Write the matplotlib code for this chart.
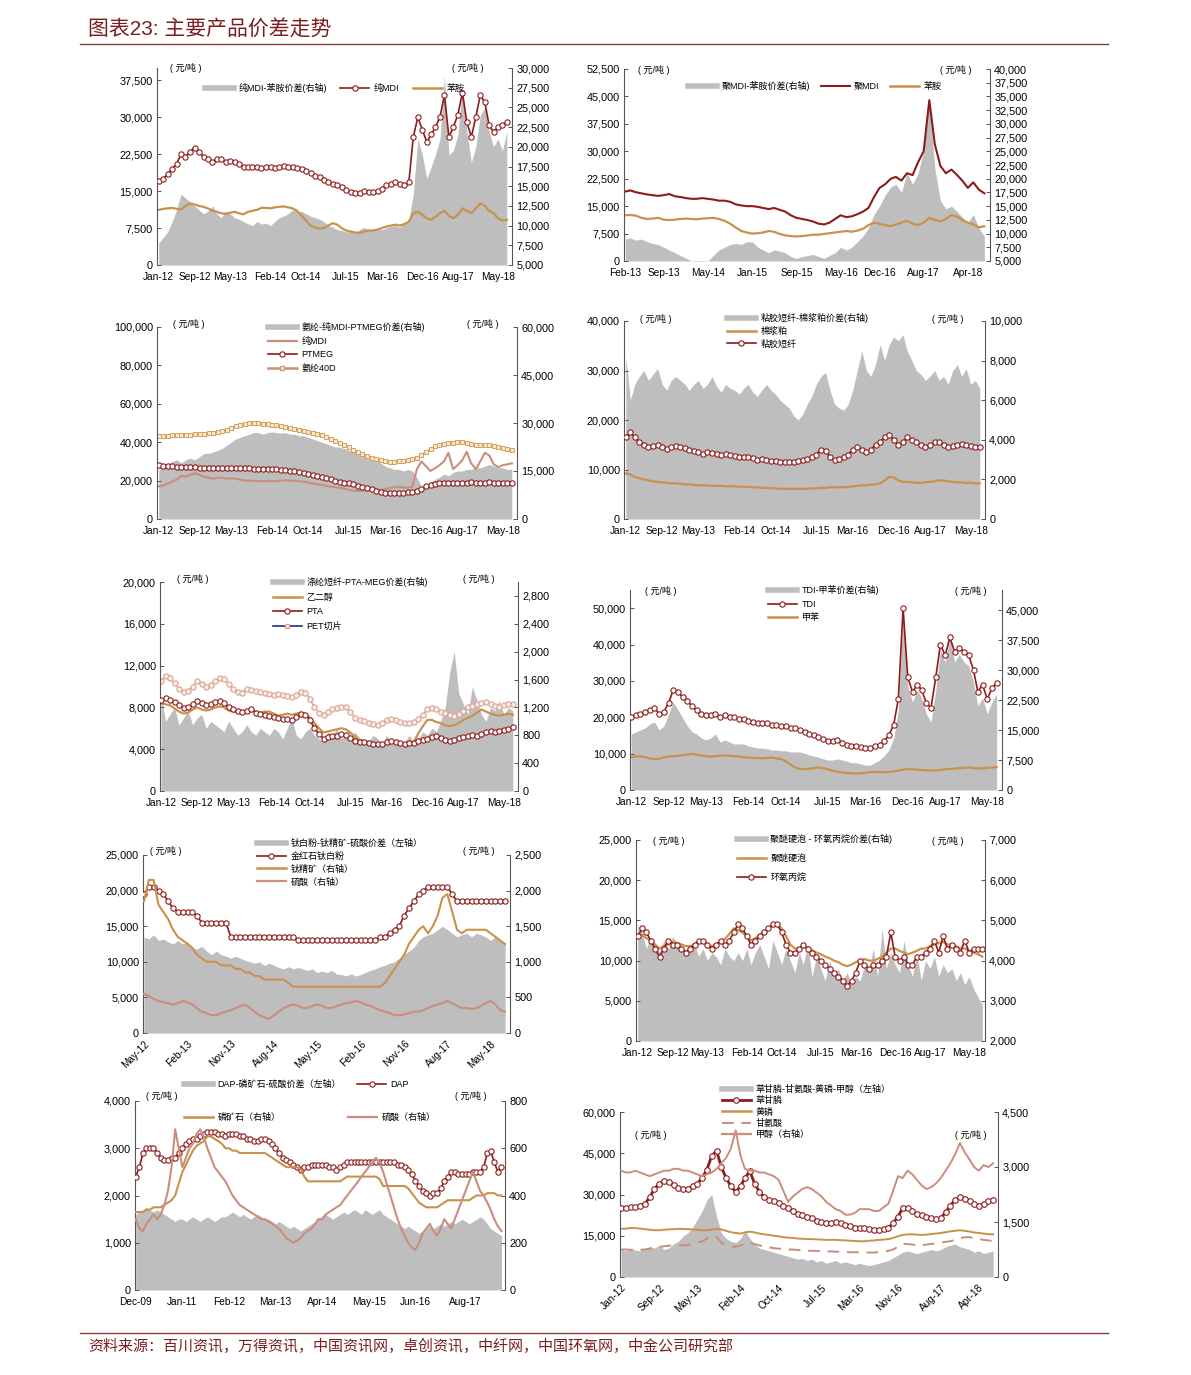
import numpy as np
import pandas as pd
import matplotlib
matplotlib.use('Agg')
import matplotlib.pyplot as plt
from matplotlib.lines import Line2D
from matplotlib.ticker import FuncFormatter

plt.rcParams['font.family'] = ['Liberation Sans', 'Noto Sans CJK SC']
plt.rcParams['axes.unicode_minus'] = False

W, H = 1191, 1375
GRAY = '#BEBEBE'
RED = '#8E1B1B'
TAN = '#C8924A'
PINK = '#C98E7C'
DARK = '#7A1E1E'

# ---------------- data (monthly) ----------------
# panel 1: 纯MDI / 苯胺, Jan-12 ..
p1_x = ['Jan-12', 'Sep-12', 'May-13', 'Feb-14', 'Oct-14', 'Jul-15', 'Mar-16', 'Dec-16', 'Aug-17', 'May-18']
mdi = [17000, 17500, 18500, 19500, 20500, 22500, 22000, 23000, 23800, 23000, 22000, 21500,
       21000, 21500, 21500, 21000, 21200, 21000, 20500, 20000, 20000, 19800, 19800, 19700,
       19800, 19800, 19700, 20000, 20200, 20000, 19900, 19600, 19500, 19000, 18600, 18000,
       17800, 17200, 16800, 16500, 16200, 15800, 15200, 14800, 14600, 14700, 15000, 14900,
       14800, 15000, 15500, 16200, 16500, 16800, 16400, 16300, 16800, 26000, 30000, 27500,
       25000, 26500, 28000, 30000, 34500, 26000, 28000, 30500, 35000, 29000, 26000, 30000,
       34500, 33000, 28500, 27000, 28000, 28500, 29000]
aniline1 = [11200, 11400, 11500, 11600, 11400, 11300, 12000, 12500, 12300, 12000, 11800, 11500,
            11000, 10800, 10500, 10400, 10600, 10800, 10500, 10300, 10800, 11000, 11200, 11600,
            11600, 11500, 11700, 11800, 11900, 11700, 11500, 11000, 10000, 9000, 8000, 7600,
            7400, 7500, 8000, 8500, 8200, 7500, 7000, 6800, 6600, 6500, 6800, 7000,
            7000, 7200, 7500, 7800, 8000, 8200, 8000, 8300, 8800, 10500, 10800, 10200,
            9500, 9200, 9800, 10500, 11000, 10000, 9500, 10200, 11500, 11000, 10500, 11500,
            12500, 12000, 11000, 10500, 9500, 9000, 9200]
spread1 = [7800, 8500, 9200, 10500, 12000, 14000, 13500, 13000, 12500, 12000, 11500, 11800,
           12500, 11500, 11000, 11800, 11500, 11000, 10800, 10500, 10200, 10000, 10500, 10200,
           10300, 10000, 10500, 11000, 11200, 11500, 12000, 11800, 11800, 11500, 11200, 11000,
           10800, 10500, 10000, 9800, 9500, 9400, 9200, 9300, 9000, 9500, 9800, 9400,
           9400, 9600, 9500, 9700, 9900, 10000, 9800, 10300, 10800, 14000, 21000, 19000,
           16000, 17500, 19000, 21000, 29000, 19000, 19500, 21500, 27500, 22000, 18000, 20000,
           24000, 25000, 22000, 20000, 21000, 19500, 22000]

# panel 2: 聚MDI / 苯胺, Feb-13 ..
p2_x = ['Feb-13', 'Sep-13', 'May-14', 'Jan-15', 'Sep-15', 'May-16', 'Dec-16', 'Aug-17', 'Apr-18']
pmdi = [19000, 19300, 18800, 18500, 18200, 18000, 17800, 18000, 18300, 17700, 17500,
        17200, 17000, 17000, 17200, 17000, 16800, 16500, 16500, 16200, 15500, 15200, 15000,
        15000, 14800, 14500, 14200, 14500, 14000, 13500, 12500, 11800, 11500, 11200, 10800,
        10200, 10000, 10500, 11500, 12500, 12000, 12200, 12800, 13500, 14500, 17500, 20000,
        21000, 22500, 23000, 22000, 24000, 23500, 27000, 30000, 44000, 32000, 26000, 24000,
        25000, 23500, 22000, 20000, 21500, 19500, 18500]
aniline2 = [12500, 12600, 12400, 11800, 11500, 11600, 11800, 11300, 11200, 11300, 11500,
            11600, 11500, 11400, 11600, 11700, 11800, 11500, 11000, 10200, 9200, 8200, 7800,
            7500, 7600, 7800, 8200, 8000, 7400, 7000, 6800, 6700, 6800, 7000, 7200,
            7200, 7400, 7600, 7800, 8000, 8200, 8000, 8300, 8800, 9800, 10500, 10200,
            9800, 9500, 10000, 10500, 11000, 10200, 9800, 10500, 11800, 11200, 10800, 11500,
            12500, 12200, 11200, 10500, 10000, 9200, 9500]
spread2 = [9000, 9200, 8800, 9000, 8500, 8200, 8000, 7500, 7000, 6500, 6000,
           5500, 5000, 4500, 4500, 5000, 6000, 7000, 7500, 8000, 8200, 8000, 8500,
           8500, 7500, 7000, 6500, 7000, 6800, 6500, 5800, 5500, 5800, 6000, 6200,
           5800, 5500, 6000, 6500, 7500, 7000, 7500, 8500, 9500, 11000, 13500, 15000,
           17000, 18500, 19000, 17500, 21000, 19000, 21000, 25000, 34000, 22000, 16000, 14500,
           15000, 14000, 13000, 12000, 13500, 11000, 9500]

# panel 3: 氨纶 / 纯MDI / PTMEG, Jan-12 ..
spandex = [43000, 43000, 43200, 43500, 43500, 43800, 44000, 44000, 44200, 44500, 44500, 44800,
           45000, 45500, 46000, 46500, 47500, 48500, 49000, 49500, 50000, 50000, 49800, 49500,
           49500, 49200, 49000, 48500, 48000, 47500, 47000, 46500, 46000, 45500, 45000, 44500,
           43500, 42500, 41500, 40500, 39500, 38500, 37500, 36000, 35000, 34000, 33000, 32000,
           31000, 30500, 30000, 29800, 29800, 30000, 30200, 30500, 31000, 32000, 33500, 35000,
           36500, 38000, 38500, 39000, 39500, 39500, 40000, 40000, 39500, 39000, 38500, 38500,
           38500, 38500, 38000, 37500, 37000, 36500, 36000]
ptmeg = [28000, 27800, 27600, 27500, 27300, 27200, 27000, 27000, 27000, 26800, 26800, 26800,
         26800, 26700, 26600, 26500, 26500, 26500, 26500, 26400, 26400, 26300, 26200, 26100,
         26000, 26000, 25800, 25500, 25300, 25000, 24800, 24500, 24000, 23500, 23000, 22500,
         22000, 21500, 21000, 20000, 19500, 19000, 18500, 18000, 17000, 16500, 16000, 15500,
         14500, 14000, 13800, 13500, 13500, 13500, 13800, 14000, 14200, 14500, 15500, 17000,
         17500, 18000, 18500, 18500, 18500, 18500, 18800, 19000, 19000, 19200, 19000, 19000,
         19000, 19200, 19000, 19000, 18800, 18800, 18500]
spread3 = [15500, 16000, 17000, 18000, 18500, 17500, 18500, 19000, 18500, 19500, 20500, 20500,
           21000, 21500, 22000, 23000, 24000, 25000, 25500, 26000, 26500, 27000, 27000, 26500,
           27000, 27200, 27000, 26800, 27000, 26500, 26500, 26000, 26000, 25500, 25000, 24500,
           24000, 23500, 23000, 22500, 22500, 22000, 21500, 21000, 20500, 20000, 19500, 19000,
           18500, 17500, 16500, 16000, 15500, 15500, 15000, 15500, 15000, 13000, 10000, 10500,
           11500, 12500, 13000, 14000, 13500, 14500, 15000, 15000, 15500, 15500, 16000, 16000,
           16500, 17000, 16500, 16000, 16000, 15500, 15500]

# panel 4: 粘胶短纤 / 棉浆粕
viscose = [16500, 17500, 16500, 15500, 15000, 14500, 14800, 15000, 14500, 14200, 14500, 14800,
           14500, 14300, 14000, 13800, 13500, 13200, 13500, 13300, 13200, 13000, 13200, 13000,
           12800, 12600, 12500, 12500, 12300, 12000, 12200, 12000, 11800, 11800, 11600, 11500,
           11500, 11600, 11800, 12000, 12200, 12500, 13000, 14000, 13800, 12500, 12000, 12200,
           12500, 13000, 14000, 14500, 14000, 13500, 14000, 15000, 15500, 16500, 17000, 16000,
           15000, 15500, 16500, 16000, 15500, 15000, 14500, 15000, 15500, 15500, 15000, 14500,
           14800, 15000, 15200, 15000, 14800, 14500, 14500]
pulp = [9200, 9000, 8500, 8200, 8000, 7800, 7600, 7500, 7400, 7300, 7200, 7200,
        7100, 7000, 7000, 6900, 6800, 6800, 6800, 6700, 6700, 6700, 6600, 6600,
        6600, 6500, 6500, 6500, 6400, 6400, 6300, 6300, 6200, 6200, 6100, 6100,
        6100, 6100, 6100, 6100, 6100, 6200, 6200, 6300, 6300, 6400, 6400, 6400,
        6400, 6500, 6600, 6700, 6800, 6800, 6900, 7000, 7200, 7800, 8500, 8400,
        7800, 7500, 7500, 7400, 7300, 7300, 7400, 7500, 7600, 7800, 7800, 7600,
        7500, 7400, 7400, 7300, 7300, 7200, 7200]
spread4 = [8200, 6000, 6800, 7200, 7500, 7000, 7300, 7600, 6800, 6500, 7000, 7200,
           7000, 6800, 6500, 6800, 7000, 6600, 6800, 7200, 6700, 6400, 6800, 6600,
           6500, 6300, 6600, 6800, 6400, 6200, 6500, 6800, 6500, 6300, 6000, 5800,
           5600, 5200, 5000, 5300, 5800, 6200, 6800, 7200, 7400, 6500, 5800, 5600,
           5500, 5800, 6500, 7500, 8500, 7500, 7200, 7800, 8800, 8000, 8800, 9200,
           9000, 9300, 8500, 8000, 7500, 7300, 7000, 7200, 7500, 7000, 7200, 6800,
           7500, 7800, 7200, 7600, 6800, 7000, 6600]

# panel 5: PET切片 / PTA / 乙二醇
pet = [10500, 11000, 10800, 10300, 9800, 9500, 9600, 10000, 10500, 10200, 10000, 10100,
       10500, 10800, 10700, 10200, 9800, 9500, 9400, 9800, 9700, 9600, 9500, 9400,
       9300, 9200, 9300, 9200, 9100, 9000, 9200, 9500, 9400, 8800, 8000, 7500,
       7300, 7600, 7800, 7900, 8000, 8000, 7600, 7000, 6800, 6700, 6500, 6400,
       6300, 6500, 6800, 6900, 6800, 6600, 6500, 6500, 6600, 6900, 7300, 7800,
       7900, 7800, 7600, 7500, 7300, 7200, 7400, 7700, 8000, 8100, 8300, 8400,
       8500, 8300, 8100, 8000, 8200, 8300, 8300]
pta = [8700, 8900, 8700, 8500, 8200, 7900, 8000, 8300, 8600, 8400, 8200, 8300,
       8500, 8600, 8400, 8000, 7800, 7700, 7600, 7700, 7800, 7500, 7400, 7300,
       7200, 7100, 7000, 6900, 6900, 6800, 7100, 7400, 7300, 6800, 6000, 5500,
       5000, 5200, 5300, 5300, 5500, 5400, 5100, 4800, 4700, 4700, 4600, 4500,
       4500, 4500, 4700, 4800, 4700, 4600, 4500, 4600, 4600, 4800, 4900, 5000,
       5200, 5300, 5100, 4900, 4800, 4900, 5100, 5200, 5300, 5400, 5300, 5500,
       5600, 5700, 5600, 5700, 5800, 5900, 6100]
meg = [8400, 8300, 8200, 7900, 7600, 7400, 7500, 7800, 8000, 7800, 7700, 7800,
       8000, 8100, 8000, 7700, 7600, 7500, 7500, 7700, 7700, 7600, 7500, 7600,
       7600, 7400, 7200, 7300, 7400, 7300, 7400, 7500, 7400, 7000, 6500, 6000,
       5600, 5700, 5800, 5900, 6000, 5900, 5600, 5200, 4900, 4800, 4700, 4600,
       4500, 4400, 4500, 4600, 4600, 4500, 4500, 4600, 4700, 5500, 6200, 6800,
       6800, 6600, 6500, 6300, 6200, 6300, 6500, 6800, 7000, 7200, 7500, 7800,
       7600, 7400, 7300, 7200, 7300, 7400, 7300]
spread5 = [1350, 1000, 1100, 1200, 950, 1050, 1150, 950, 1050, 1100, 900, 1000,
           950, 900, 850, 1000, 900, 800, 850, 950, 850, 800, 900, 850,
           800, 900, 850, 750, 900, 1050, 800, 750, 850, 900, 800, 750,
           700, 850, 800, 900, 750, 800, 700, 850, 750, 650, 700, 800,
           750, 650, 800, 700, 750, 650, 700, 800, 700, 750, 850, 800,
           900, 850, 1000, 1200, 1700, 2000, 1400, 1250, 1100, 1500, 1300, 1100,
           1000, 1200, 1150, 1300, 1100, 1200, 1150]

# panel 6: TDI / 甲苯
tdi = [20000, 20500, 21000, 21500, 22000, 22500, 21000, 21500, 24000, 27500, 27000, 25500,
       24500, 23000, 22000, 21000, 20500, 20500, 21000, 20000, 20500, 20000, 20000, 19500,
       19500, 19000, 18800, 18500, 18500, 18300, 18000, 17800, 17500, 17500, 17000, 17000,
       16500, 16000, 15500, 15000, 14500, 14000, 13500, 13500, 13800, 13000, 12500, 12000,
       12000, 11800, 11500, 11500, 12000, 12500, 13500, 15000, 18000, 25000, 50000, 31000,
       27000, 29000, 27500, 24000, 22500, 31000, 40000, 37000, 42000, 38000, 39000, 38000,
       37000, 33000, 27000, 29000, 25000, 28000, 29500]
toluene = [9000, 9200, 9300, 9000, 8700, 8500, 8600, 9000, 9200, 9300, 9400, 9600,
           9800, 9900, 9700, 9500, 9300, 9200, 9300, 9400, 9500, 9400, 9300, 9200,
           9000, 8900, 8800, 8800, 8700, 8800, 8900, 8700, 8500, 7900, 7000, 6200,
           5800, 5700, 5900, 6000, 6200, 6000, 5700, 5300, 5000, 4800, 4700, 4600,
           4500, 4600, 4700, 4900, 5000, 4900, 4900, 5000, 5100, 5300, 5600, 5800,
           5700, 5600, 5500, 5400, 5400, 5400, 5500, 5700, 5800, 5900, 6000, 6100,
           6200, 6000, 5900, 6000, 6100, 6200, 6300]
spread6 = [14000, 14500, 15000, 15500, 16500, 17000, 15000, 16000, 19000, 22000, 20000, 18000,
           16000, 14500, 14000, 13000, 12500, 13000, 14000, 12000, 12500, 12000, 11500, 11500,
           11500, 11000, 10800, 10500, 10500, 10300, 10000, 10000, 9800, 9800, 9500, 9500,
           9500, 9200, 8800, 8500, 8200, 7800, 7500, 7500, 7800, 7500, 7200, 6800,
           6800, 6500, 6200, 6200, 6800, 7500, 8500, 10000, 13000, 20000, 44000, 26000,
           22000, 25000, 23000, 19000, 17000, 25000, 35000, 32000, 38000, 32000, 34000, 32000,
           31000, 27000, 21000, 23000, 19000, 22000, 24000]

# panel 7: 钛白粉, May-12 ..
p7_x = ['May-12', 'Feb-13', 'Nov-13', 'Aug-14', 'May-15', 'Feb-16', 'Nov-16', 'Aug-17', 'May-18']
spread7 = [13500, 13200, 13800, 13000, 13200, 12800, 12500, 13000,
           12500, 12800, 12000, 11800, 12200, 11500, 11000, 11500, 11000, 10800, 10500, 10800,
           10500, 10200, 10000, 9800, 10000, 9500, 9800, 9500, 9200, 9000, 9300, 9000,
           9200, 9000, 8800, 9000, 8500, 8700, 8500, 8800, 8300, 8200, 8000, 8300,
           8000, 8200, 8500, 8800, 9000, 9300, 9500, 9800, 10000, 10500, 11000, 11500,
           12000, 13000, 13500, 13800, 14000, 14500, 15000, 14500, 14000, 13500, 13800, 14000,
           13500, 14000, 13800, 13500, 13000, 13500, 13000, 12500]
tio2 = [19500, 20500, 20500, 20000, 19500, 18500, 17500, 17000,
        17000, 17000, 17000, 16500, 15500, 15500, 15500, 15500, 15500, 15500, 13500, 13500,
        13500, 13500, 13500, 13500, 13500, 13500, 13500, 13500, 13500, 13500, 13500, 13500,
        13000, 13000, 13000, 13000, 13000, 13000, 13000, 13000, 13000, 13000, 13000, 13000,
        13000, 13000, 13000, 13000, 13000, 13500, 13500, 14000, 14500, 15000, 16500, 17500,
        18500, 19500, 20000, 20500, 20500, 20500, 20500, 20500, 19500, 18500, 18500, 18500,
        18500, 18500, 18500, 18500, 18500, 18500, 18500, 18500]
ilmenite = [1850, 2150, 2150, 1800, 1700, 1600, 1450, 1350,
            1300, 1250, 1200, 1100, 1050, 1000, 1000, 1000, 950, 950, 950, 900,
            900, 850, 850, 800, 800, 750, 750, 750, 750, 750, 700, 650,
            650, 650, 650, 650, 650, 650, 650, 650, 650, 650, 650, 650,
            650, 650, 650, 650, 650, 650, 700, 800, 900, 1000, 1100, 1250,
            1350, 1450, 1500, 1400, 1500, 1650, 1900, 1950, 1700, 1450, 1400, 1450,
            1450, 1450, 1450, 1450, 1400, 1350, 1300, 1250]
acid7 = [550, 520, 480, 450, 430, 420, 400, 420,
         450, 430, 400, 350, 300, 280, 250, 250, 280, 300, 320, 350,
         380, 400, 350, 300, 250, 220, 200, 250, 300, 350, 380, 400,
         380, 350, 350, 380, 400, 380, 350, 350, 380, 400, 420, 430,
         450, 430, 400, 380, 350, 320, 300, 280, 250, 250, 260, 280,
         300, 300, 320, 350, 380, 400, 420, 450, 420, 380, 350, 350,
         340, 350, 380, 420, 450, 400, 320, 300]

# panel 8: 聚醚硬泡 / 环氧丙烷, Jan-12 ..
p8_x = ['Jan-12', 'Sep-12', 'May-13', 'Feb-14', 'Oct-14', 'Jul-15', 'Mar-16', 'Dec-16', 'Aug-17', 'May-18']
spread8 = [4900, 4700, 4300, 4600, 4400, 4200, 4500, 4300, 4600, 4400, 4200, 4300,
           4200, 4400, 4100, 4300, 4000, 4200, 4100, 3900, 4300, 4100, 4000, 4200,
           4000, 4300, 3900, 4200, 4400, 4100, 3800, 4500, 4200, 3900, 4300, 4000,
           3700, 4200, 3900, 4400, 3600, 4100, 3800, 3500, 4000, 3600, 3800, 3500,
           3700, 3400, 3600, 3500, 3900, 3700, 4300, 3600, 4800, 3800, 4200, 3900,
           3700, 4500, 3900, 3600, 4200, 3500, 4000, 3800, 4100, 3600, 3900, 3700,
           3800, 3500, 3700, 3400, 3600, 3300, 3100, 2900]
foam = [13000, 13200, 12800, 12500, 12000, 11500, 11800, 12000, 12300, 12200, 12000, 11800,
        11800, 12000, 12300, 12500, 12000, 11800, 12000, 12300, 12700, 13300, 14000, 13800,
        13500, 13000, 12500, 12800, 13200, 13600, 14000, 14300, 14500, 14000, 13000, 12000,
        11500, 11500, 11800, 11600, 11300, 11000, 10800, 10500, 10300, 10000, 9800, 9500,
        9300, 9500, 9800, 10000, 10200, 10000, 10000, 10200, 10500, 11000, 11500, 11500,
        11200, 11000, 10800, 11000, 11200, 11500, 11500, 11800, 12000, 12200, 12300, 12000,
        12000, 11800, 11500, 11500, 11200, 11000, 10800, 10500]
po = [13000, 14000, 13500, 12500, 11500, 10500, 11500, 12500, 12000, 12000, 11500, 11000,
      11500, 12000, 12500, 12500, 12000, 11500, 12000, 12500, 12000, 12500, 13500, 14500,
      14000, 13000, 12000, 12500, 13000, 13500, 14000, 14500, 14500, 13500, 12000, 11000,
      11000, 11500, 12000, 11500, 11000, 10500, 10000, 9500, 9000, 8500, 8000, 7500,
      6800, 7500, 8500, 10000, 9500, 9000, 9500, 9500, 10000, 10500, 13500, 10500,
      10000, 10500, 9500, 9500, 10500, 10500, 11000, 11500, 12500, 11000, 13000, 11500,
      12000, 11500, 11000, 12500, 11000, 11500, 11500, 11500]

# panel 9: DAP, Dec-09 ..
p9_x = ['Dec-09', 'Jan-11', 'Feb-12', 'Mar-13', 'Apr-14', 'May-15', 'Jun-16', 'Aug-17']
dap = [2400,
       2600, 2900, 3000, 3000, 3000, 2900, 2800, 2750, 2750, 2800, 2800, 2900,
       3000, 3100, 3150, 3200, 3200, 3250, 3300, 3350, 3350, 3350, 3300, 3300,
       3250, 3300, 3300, 3300, 3250, 3250, 3200, 3200, 3150, 3150, 3200, 3200,
       3150, 3100, 3000, 2900, 2800, 2750, 2700, 2650, 2600, 2550, 2600, 2600,
       2650, 2650, 2650, 2650, 2650, 2600, 2600, 2550, 2600, 2650, 2700, 2700,
       2700, 2700, 2700, 2700, 2700, 2700, 2700, 2700, 2700, 2700, 2700, 2700,
       2650, 2650, 2600, 2550, 2450, 2300, 2200, 2100, 2050, 2000, 2050, 2050,
       2150, 2300, 2400, 2500, 2500, 2450, 2450, 2450, 2450, 2500, 2500, 2500,
       2600, 2900, 2950, 2700, 2500, 2600]
spread9 = [1600,
           1650, 1700, 1750, 1700, 1650, 1700, 1650, 1600, 1550, 1500, 1450, 1500,
           1500, 1450, 1500, 1550, 1500, 1450, 1500, 1550, 1500, 1450, 1500, 1550,
           1550, 1600, 1650, 1600, 1550, 1600, 1550, 1500, 1550, 1600, 1550, 1500,
           1500, 1450, 1400, 1450, 1400, 1350, 1300, 1350, 1300, 1250, 1300, 1350,
           1400, 1450, 1500, 1550, 1600, 1550, 1500, 1550, 1600, 1650, 1600, 1650,
           1700, 1650, 1600, 1700, 1650, 1600, 1650, 1700, 1600, 1550, 1500, 1450,
           1400, 1350, 1300, 1350, 1300, 1250, 1200, 1250, 1300, 1350, 1300, 1350,
           1400, 1350, 1400, 1450, 1400, 1450, 1500, 1450, 1400, 1450, 1500, 1550,
           1500, 1400, 1300, 1250, 1200, 1150]
rock = [330,
        330, 330, 340, 340, 350, 350, 350, 360, 370, 380, 400, 450,
        500, 530, 560, 590, 610, 620, 630, 650, 650, 640, 630, 620,
        600, 600, 590, 590, 580, 580, 580, 580, 580, 580, 580, 580,
        570, 560, 550, 540, 530, 520, 520, 520, 520, 510, 480, 460,
        460, 460, 460, 460, 460, 460, 460, 460, 460, 470, 480, 480,
        480, 480, 480, 480, 480, 480, 480, 470, 440, 440, 440, 440,
        440, 440, 440, 430, 410, 390, 370, 360, 350, 350, 350, 350,
        360, 370, 380, 380, 380, 380, 380, 380, 380, 390, 400, 400,
        400, 410, 410, 410, 400, 400]
acid9 = [300,
         260, 250, 280, 300, 320, 300, 320, 360, 420, 520, 680, 600,
         520, 560, 600, 620, 660, 680, 650, 600, 560, 520, 500, 480,
         460, 430, 400, 380, 360, 350, 340, 330, 320, 310, 300, 300,
         290, 280, 270, 260, 240, 220, 210, 200, 210, 220, 240, 250,
         260, 280, 300, 300, 320, 330, 340, 350, 360, 380, 400, 420,
         440, 460, 480, 500, 520, 540, 560, 540, 500, 450, 400, 350,
         300, 260, 230, 200, 180, 170, 200, 240, 260, 280, 250, 230,
         260, 300, 280, 260, 300, 340, 380, 420, 460, 500, 460, 420,
         400, 370, 340, 300, 270, 250]

# panel 10: 草甘膦, Jan-12 ..
p10_x = ['Jan-12', 'Sep-12', 'May-13', 'Feb-14', 'Oct-14', 'Jul-15', 'Mar-16', 'Nov-16', 'Aug-17', 'Apr-18']
glyphosate = [25000, 25000, 25500, 25500, 26000, 26500, 29000, 32000, 34000, 35000, 34500, 33500,
              32500, 32000, 32000, 33000, 34000, 36000, 39000, 44000, 46000, 40000, 36000, 33000,
              31000, 33000, 36000, 38500, 34000, 31000, 29000, 28000, 27500, 27000, 26000, 25000,
              24000, 23000, 22500, 22000, 21500, 20500, 20000, 19500, 19500, 20000, 19500, 19000,
              18500, 18000, 18000, 17800, 17500, 17000, 17200, 17500, 18000, 19500, 22000, 25000,
              25000, 24000, 23000, 22500, 22000, 21500, 21000, 21500, 23500, 26000, 28000, 29000,
              28500, 27500, 26500, 26000, 26500, 27500, 28000]
phosphorus = [17500, 17600, 17800, 17800, 17600, 17400, 17200, 17000, 17000, 17200, 17300, 17400,
              17500, 17500, 17400, 17300, 17200, 17000, 17000, 17200, 17500, 17300, 16800, 16300,
              16000, 15800, 16200, 16500, 16200, 15800, 15500, 15300, 15000, 14800, 14500, 14300,
              14200, 14000, 13900, 13800, 13800, 13700, 13600, 13500, 13500, 13500, 13400, 13300,
              13200, 13100, 13000, 13000, 13200, 13300, 13500, 13600, 13800, 14200, 14800, 15300,
              15500, 15500, 15400, 15300, 15400, 15600, 15800, 16000, 16300, 16600, 16800, 17000,
              16800, 16500, 16200, 16000, 15800, 15600, 15500]
glycine = [10000, 10000, 9900, 9800, 9900, 10000, 10300, 10600, 10900, 11200, 11400, 11500,
           11500, 11500, 11700, 12000, 12500, 13000, 14000, 15000, 14500, 12500, 11500, 11000,
           11000, 11500, 12000, 12500, 12000, 11500, 11000, 10800, 10500, 10300, 10200, 10000,
           10000, 9800, 9700, 9600, 9500, 9500, 9400, 9300, 9300, 9200, 9200, 9100,
           9000, 9000, 9000, 8900, 8900, 8900, 9000, 9200, 9500, 10000, 11000, 12000,
           12000, 11800, 11500, 11500, 11800, 12000, 12200, 12500, 12800, 13000, 13500, 14000,
           14500, 14500, 14000, 13800, 13500, 13300, 13000]
methanol = [2900, 2850, 2850, 2900, 2850, 2800, 2750, 2800, 2850, 2900, 2900, 2950,
            2950, 2900, 2900, 2850, 2800, 2750, 2800, 2850, 2950, 3100, 3250, 3500,
            4000, 3300, 2950, 2900, 2900, 2850, 2850, 2800, 2750, 2650, 2350, 2050,
            2200, 2300, 2400, 2450, 2400, 2300, 2200, 2050, 1950, 1850, 1800, 1700,
            1700, 1750, 1850, 1850, 1850, 1800, 1800, 1900, 2000, 2350, 2750, 2700,
            2900, 2800, 2650, 2500, 2400, 2450, 2550, 2700, 2900, 3100, 3350, 3650,
            3400, 3200, 3000, 2900, 3050, 3000, 3100]
spread10 = [10000, 9500, 10500, 9800, 9500, 10500, 11000, 10500, 11500, 10000, 10500, 12000,
            13000, 15000, 16000, 18000, 21000, 24000, 28000, 30000, 22000, 16000, 14000, 13000,
            12500, 14000, 17000, 14000, 12000, 10500, 10000, 9500, 9000, 8500, 8000, 7500,
            7000, 6500, 6800, 6000, 6500, 5500, 6000, 5000, 5500, 6000, 5000, 5500,
            5000, 4500, 5000, 4500, 4200, 4500, 5000, 5500, 6000, 7000, 8000, 9000,
            9500, 9000, 8500, 9000, 9500, 10000, 9500, 10000, 11000, 11500, 12000, 11000,
            10500, 10000, 9000, 9500, 8500, 9000, 9500]

# ---------------- figure ----------------
fig = plt.figure(figsize=(W / 100, H / 100), dpi=100)


def months(start, vals):
    return pd.date_range(start, periods=len(vals), freq='MS')


def fy(y):
    return 1 - y / H


def comma(v, p):
    return f'{v:,.0f}'


def panel(box, ylim, ytop, ystep, y2lim, y2top, y2step, xlim, xlabels, rot=0, gray_right=True):
    l, r, t, b = box
    ax = fig.add_axes([l / W, fy(b), (r - l) / W, (b - t) / H])
    ax2 = ax.twinx()
    ax.set_ylim(*ylim)
    ax.set_yticks(np.arange(ylim[0], ytop + 1, ystep))
    ax2.set_ylim(*y2lim)
    ax2.set_yticks(np.arange(y2lim[0], y2top + 1, y2step))
    for a in (ax, ax2):
        a.spines['top'].set_visible(False)
        a.spines['bottom'].set_visible(False)
        a.yaxis.set_major_formatter(FuncFormatter(comma))
        a.tick_params(axis='y', direction='in', length=3, width=0.7, labelsize=7.8,
                      color='#555555', pad=3)
    ax.spines['right'].set_visible(False)
    ax2.spines['left'].set_visible(False)
    ax.spines['left'].set_color('#555555')
    ax2.spines['right'].set_color('#555555')
    ax.set_xlim(pd.Timestamp(xlim[0]), pd.Timestamp(xlim[1]))
    ax.set_xticks(pd.to_datetime(xlabels, format='%b-%y'))
    if rot:
        ax.set_xticklabels(xlabels, fontsize=7.3, rotation=rot, ha='right', rotation_mode='anchor')
        ax.tick_params(axis='x', length=0, pad=4)
    else:
        ax.set_xticklabels(xlabels, fontsize=7.3)
        ax.tick_params(axis='x', length=0, pad=5)
    if gray_right:
        ax.set_zorder(ax2.get_zorder() + 1)
        ax.patch.set_visible(False)
    return ax, ax2


def units(xl, xr, y):
    fig.text(xl / W, fy(y), '( 元/吨 )', fontsize=6.5, ha='left', va='center')
    fig.text(xr / W, fy(y), '( 元/吨 )', fontsize=6.5, ha='left', va='center')


def red_dots(ax, d, v):
    ax.plot(d, v, color=RED, lw=1.2, marker='o', ms=3.8, mfc='white', mec=RED, mew=0.8, zorder=3)


def leg(handles, labels, x, y, ncol=1, row=13, colsp=2.0):
    fig.legend(handles, labels, loc='upper left', bbox_to_anchor=(x / W, fy(y)), ncol=ncol,
               frameon=False, fontsize=6.5, handlelength=3.2, handletextpad=0.5,
               labelspacing=max((row - 9.3) / 9, 0.02), columnspacing=colsp,
               borderpad=0, borderaxespad=0)


h_gray = Line2D([], [], color=GRAY, lw=4)
h_reddot = Line2D([], [], color=RED, lw=1.2, marker='o', ms=3.8, mfc='white', mec=RED, mew=0.8)
h_red = Line2D([], [], color=RED, lw=1.5)
h_tan = Line2D([], [], color=TAN, lw=1.8)
h_pink = Line2D([], [], color=PINK, lw=1.6)

# panel 1
ax, ax2 = panel((157, 512, 68, 265), (0, 40000), 37500, 7500, (5000, 30000), 30000, 2500,
                ('2011-12-20', '2018-08-05'), p1_x)
d = months('2012-01-01', mdi)
ax2.fill_between(d, spread1, 5000, color=GRAY, lw=0)
ax.plot(months('2012-01-01', aniline1), aniline1, color=TAN, lw=1.6)
red_dots(ax, d, mdi)
units(170, 452, 68)
leg([h_gray, h_reddot, h_tan], ['纯MDI-苯胺价差(右轴)', '纯MDI', '苯胺'], 205, 83, ncol=3, colsp=1.5)

# panel 2
ax, ax2 = panel((624, 990, 69, 261), (0, 52500), 52500, 7500, (5000, 40000), 40000, 2500,
                ('2013-01-25', '2018-08-01'), p2_x)
d = months('2013-02-01', pmdi)
ax2.fill_between(months('2013-02-01', spread2), spread2, 5000, color=GRAY, lw=0)
ax.plot(months('2013-02-01', aniline2), aniline2, color=TAN, lw=1.6)
ax.plot(d, pmdi, color=RED, lw=1.5)
units(638, 940, 70)
leg([h_gray, h_red, h_tan], ['聚MDI-苯胺价差(右轴)', '聚MDI', '苯胺'], 688, 81, ncol=3, colsp=1.2)

# panel 3
ax, ax2 = panel((157, 517, 327, 519), (0, 100000), 100000, 20000, (0, 60000), 60000, 15000,
                ('2011-12-20', '2018-08-05'), p1_x)
ax2.fill_between(months('2012-01-01', spread3), spread3, 0, color=GRAY, lw=0)
ax.plot(months('2012-01-01', mdi), mdi, color=PINK, lw=1.5)
ax.plot(months('2012-01-01', spandex), spandex, color='#D4A062', lw=1.2, marker='s', ms=3.2,
        mfc='#F7E8CC', mec='#D4A062', mew=0.7)
red_dots(ax, months('2012-01-01', ptmeg), ptmeg)
units(173, 467, 324)
h_spx = Line2D([], [], color=PINK, lw=1.8, marker='s', ms=3.5, mfc='#F7E8CC', mec='#D4A062')
leg([h_gray, h_pink, h_reddot, h_spx], ['氨纶-纯MDI-PTMEG价差(右轴)', '纯MDI', 'PTMEG', '氨纶40D'],
    268, 322, row=14)

# panel 4
ax, ax2 = panel((624, 985, 321, 519), (0, 40000), 40000, 10000, (0, 10000), 10000, 2000,
                ('2011-12-20', '2018-08-05'), p1_x)
ax2.fill_between(months('2012-01-01', spread4), spread4, 0, color=GRAY, lw=0)
ax.plot(months('2012-01-01', pulp), pulp, color=TAN, lw=1.6)
red_dots(ax, months('2012-01-01', viscose), viscose)
units(640, 932, 319)
leg([h_gray, h_tan, h_reddot], ['粘胶短纤-棉浆粕价差(右轴)', '棉浆粕', '粘胶短纤'], 727, 313, row=13)

# panel 5
ax, ax2 = panel((160, 518, 582, 791), (0, 20000), 20000, 4000, (0, 3000), 2800, 400,
                ('2011-12-25', '2018-08-05'), p1_x)
ax2.fill_between(months('2012-01-01', spread5), spread5, 0, color=GRAY, lw=0)
ax.plot(months('2012-01-01', meg), meg, color=TAN, lw=1.6)
ax.plot(months('2012-01-01', pet), pet, color='#D9A394', lw=1.0, marker='o', ms=3.8,
        mfc='#FBEDE8', mec='#D9A394', mew=0.8)
red_dots(ax, months('2012-01-01', pta), pta)
units(177, 463, 579)
h_pet = Line2D([], [], color='#1F2F7A', lw=1.2, marker='s', ms=3.5, mfc='#FBEDE8', mec='#D9A394')
leg([h_gray, h_tan, h_reddot, h_pet], ['涤纶短纤-PTA-MEG价差(右轴)', '乙二醇', 'PTA', 'PET切片'],
    273, 577, row=15)

# panel 6
ax, ax2 = panel((630, 1002, 590, 790), (0, 55000), 50000, 10000, (0, 50000), 45000, 7500,
                ('2011-12-25', '2018-08-05'), p1_x)
ax2.fill_between(months('2012-01-01', spread6), spread6, 0, color=GRAY, lw=0)
ax.plot(months('2012-01-01', toluene), toluene, color=TAN, lw=1.6)
red_dots(ax, months('2012-01-01', tdi), tdi)
units(645, 955, 591)
leg([h_gray, h_reddot, h_tan], ['TDI-甲苯价差(右轴)', 'TDI', '甲苯'], 768, 585, row=14)

# panel 7
ax, ax2 = panel((143, 510, 855, 1033), (0, 25000), 25000, 5000, (0, 2500), 2500, 500,
                ('2012-04-25', '2018-09-01'), p7_x, rot=45, gray_right=False)
ax.fill_between(months('2012-05-01', spread7), spread7, 0, color=GRAY, lw=0)
red_dots(ax, months('2012-05-01', tio2), tio2)
ax2.plot(months('2012-05-01', ilmenite), ilmenite, color=TAN, lw=1.5)
ax2.plot(months('2012-05-01', acid7), acid7, color=PINK, lw=1.5)
units(150, 463, 851)
leg([h_gray, h_reddot, h_tan, h_pink], ['钛白粉-钛精矿-硫酸价差（左轴）', '金红石钛白粉', '钛精矿（右轴）', '硫酸（右轴）'],
    257, 839, row=13)

# panel 8
ax, ax2 = panel((636, 985, 840, 1041), (0, 25000), 25000, 5000, (2000, 7000), 7000, 1000,
                ('2011-12-20', '2018-08-20'), p8_x)
ax2.fill_between(months('2012-01-01', spread8), spread8, 2000, color=GRAY, lw=0)
ax.plot(months('2012-01-01', foam), foam, color=TAN, lw=1.6)
red_dots(ax, months('2012-01-01', po), po)
units(653, 932, 841)
leg([h_gray, h_tan, h_reddot], ['聚醚硬泡 - 环氧丙烷价差(右轴)', '聚醚硬泡', '环氧丙烷'], 737, 834, row=19)

# panel 9
ax, ax2 = panel((135, 505, 1101, 1290), (0, 4000), 4000, 1000, (0, 800), 800, 200,
                ('2009-11-25', '2018-07-01'), p9_x, gray_right=False)
ax.fill_between(months('2009-12-01', spread9), spread9, 0, color=GRAY, lw=0)
red_dots(ax, months('2009-12-01', dap), dap)
ax2.plot(months('2009-12-01', rock), rock, color=TAN, lw=1.5)
ax2.plot(months('2009-12-01', acid9), acid9, color=PINK, lw=1.5)
units(146, 455, 1096)
leg([h_gray, h_reddot], ['DAP-磷矿石-硫酸价差（左轴）', 'DAP'], 184, 1080, ncol=2, colsp=1.8)
leg([h_tan, h_pink], ['磷矿石（右轴）', '硫酸（右轴）'], 184, 1113, ncol=2, colsp=7.5)

# panel 10
ax, ax2 = panel((620, 998, 1112, 1277), (0, 60000), 60000, 15000, (0, 4500), 4500, 1500,
                ('2011-12-25', '2018-08-01'), p10_x, rot=45, gray_right=False)
ax.fill_between(months('2012-01-01', spread10), spread10, 0, color=GRAY, lw=0)
ax.plot(months('2012-01-01', phosphorus), phosphorus, color=TAN, lw=1.4)
ax.plot(months('2012-01-01', glycine), glycine, color=PINK, lw=1.4, ls=(0, (6, 4)))
ax2.plot(months('2012-01-01', methanol), methanol, color=PINK, lw=1.4)
ax.plot(months('2012-01-01', glyphosate), glyphosate, color=RED, lw=2.0, marker='o', ms=4,
        mfc='white', mec=RED, mew=0.8, zorder=3)
units(635, 955, 1135)
h_gly = Line2D([], [], color=RED, lw=2.0, marker='o', ms=4, mfc='white', mec=RED, mew=0.8)
h_dash = Line2D([], [], color=PINK, lw=1.4, ls=(0, (6, 4)))
leg([h_gray, h_gly, h_tan, h_dash, h_pink], ['草甘膦-甘氨酸-黄磷-甲醇（左轴）', '草甘膦', '黄磷', '甘氨酸', '甲醇（右轴）'],
    722, 1085, row=11.5)

# title and source
fig.text(88 / W, fy(30), '图表23: 主要产品价差走势', fontsize=15, color=DARK, ha='left', va='center')
fig.add_artist(Line2D([80 / W, 1108 / W], [fy(44), fy(44)], color='#8B3A3A', lw=1))
fig.add_artist(Line2D([80 / W, 1108 / W], [fy(1333), fy(1333)], color='#8B3A3A', lw=1))
fig.text(88 / W, fy(1346), '资料来源：百川资讯，万得资讯，中国资讯网，卓创资讯，中纤网，中国环氧网，中金公司研究部',
         fontsize=10.8, color=DARK, ha='left', va='center')

fig.savefig('out.png', dpi=100)
